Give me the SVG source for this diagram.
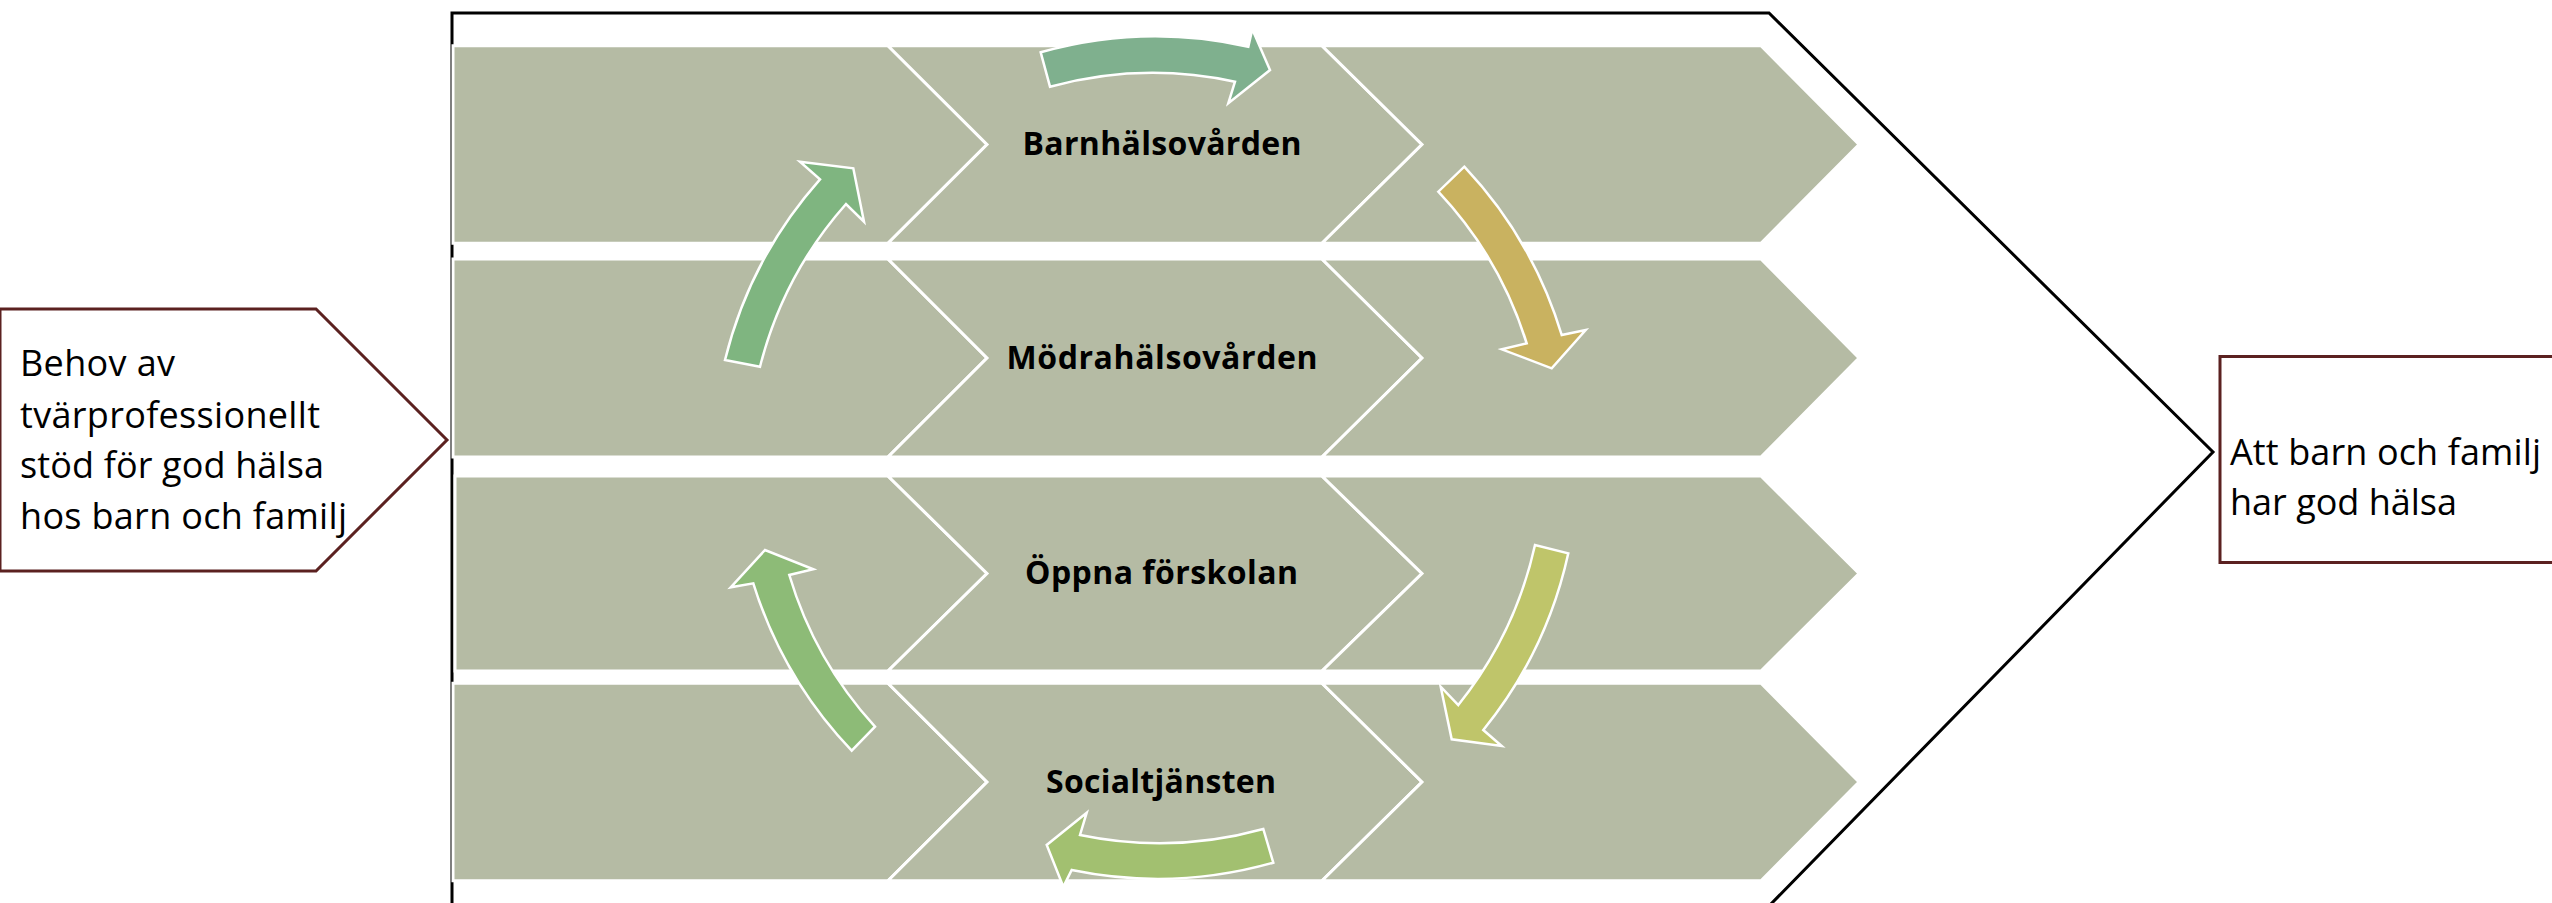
<svg xmlns="http://www.w3.org/2000/svg" width="2552" height="903" viewBox="0 0 2552 903">
<style>
.bg{fill:#ffffff}
.frame{fill:#ffffff;stroke:#000000;stroke-width:3;stroke-linejoin:miter}
.chev{fill:#B5BBA4;stroke:#ffffff;stroke-width:3;stroke-linejoin:miter}
.box{fill:#ffffff;stroke:#5B2120;stroke-width:3}
.lbl{font-family:"Open Sans","Liberation Sans",sans-serif;font-weight:bold;font-size:32px;fill:#000000;text-anchor:middle}
.txt{font-family:"Open Sans","Liberation Sans",sans-serif;font-size:36px;fill:#000000}
.arr{stroke:#ffffff;stroke-width:2.5;stroke-linejoin:miter}
</style>
<rect class="bg" x="0" y="0" width="2552" height="903"/>
<g id="frame">
<polygon class="frame" points="452,13 1769,13 2213,452 1769,906 452,906"/>
</g>
<g id="row1">
<g id="r1c1"><polygon class="chev" points="453,45.7 888,45.7 987,144.5 888,243.3 453,243.3"/></g>
<g id="r1c2"><polygon class="chev" points="888,45.7 1322,45.7 1422,144.5 1322,243.3 888,243.3 987,144.5"/></g>
<g id="r1c3"><polygon class="chev" points="1322,45.7 1761,45.7 1859,144.5 1761,243.3 1322,243.3 1422,144.5"/></g>
</g>
<g id="row2">
<g id="r2c1"><polygon class="chev" points="453,259 888,259 987,358 888,457 453,457"/></g>
<g id="r2c2"><polygon class="chev" points="888,259 1322,259 1422,358 1322,457 888,457 987,358"/></g>
<g id="r2c3"><polygon class="chev" points="1322,259 1761,259 1859,358 1761,457 1322,457 1422,358"/></g>
</g>
<g id="row3">
<g id="r3c1"><polygon class="chev" points="455,476 888,476 987,573.5 888,671 455,671"/></g>
<g id="r3c2"><polygon class="chev" points="888,476 1322,476 1422,573.5 1322,671 888,671 987,573.5"/></g>
<g id="r3c3"><polygon class="chev" points="1322,476 1761,476 1859,573.5 1761,671 1322,671 1422,573.5"/></g>
</g>
<g id="row4">
<g id="r4c1"><polygon class="chev" points="453,683.3 888,683.3 987,782 888,880.7 453,880.7"/></g>
<g id="r4c2"><polygon class="chev" points="888,683.3 1322,683.3 1422,782 1322,880.7 888,880.7 987,782"/></g>
<g id="r4c3"><polygon class="chev" points="1322,683.3 1761,683.3 1859,782 1761,880.7 1322,880.7 1422,782"/></g>
</g>
<g id="labels">
<text class="lbl" x="1162" y="155" textLength="279">Barnhälsovården</text>
<text class="lbl" x="1162" y="369" textLength="311">Mödrahälsovården</text>
<text class="lbl" x="1161.5" y="584" textLength="273">Öppna förskolan</text>
<text class="lbl" x="1161" y="793" textLength="230">Socialtjänsten</text>
</g>
<g id="connectors">
<path class="arr" fill="#7FB08E" d="M1040.7,52.3 A425,425 0 0 1 1248.3,46.7 L1252.3,29.3 L1270,70 L1228.3,103.3 L1235,81.7 A390,390 0 0 0 1050,86.7 Z"/>
<path class="arr" fill="#C9B260" d="M1464.3,166.7 A425,425 0 0 1 1561.7,335 L1585.7,330 L1551.7,368.3 L1501.7,349.3 L1526.7,343.3 A390,390 0 0 0 1438.3,191.7 Z"/>
<path class="arr" fill="#BFC56A" d="M1568.3,553.3 A425,425 0 0 1 1483.3,730 L1501.7,746 L1451.7,739.3 L1440.7,686.7 L1458.3,705 A390,390 0 0 0 1535,545 Z"/>
<path class="arr" fill="#A2C070" d="M1273.3,862.7 A425,425 0 0 1 1071.7,870 L1063.3,886.7 L1046.7,845 L1086.7,812.7 L1080,835 A390,390 0 0 0 1263.3,829 Z"/>
<path class="arr" fill="#8DBB77" d="M851.7,750.7 A425,425 0 0 1 753.3,583.3 L730.7,587.3 L765,550 L813.3,569.3 L789.3,575 A390,390 0 0 0 875,726.7 Z"/>
<path class="arr" fill="#7FB580" d="M725,360 A425,425 0 0 1 820,179.3 L800,161.7 L853.3,168.3 L864,221.7 L846,204 A390,390 0 0 0 760,366.7 Z"/>
</g>
<g id="input-box">
<polygon class="box" points="0,309 316,309 447,440 316,571 0,571"/>
<text class="txt" x="20" y="376" textLength="155">Behov av</text>
<text class="txt" x="20" y="427.7" textLength="300">tvärprofessionellt</text>
<text class="txt" x="20" y="477.7" textLength="304">stöd för god hälsa</text>
<text class="txt" x="20" y="529.3" textLength="327">hos barn och familj</text>
</g>
<g id="output-box">
<rect class="box" x="2220" y="356.5" width="340" height="206"/>
<text class="txt" x="2230" y="465" textLength="311">Att barn och familj</text>
<text class="txt" x="2230" y="515" textLength="227">har god hälsa</text>
</g>
</svg>
